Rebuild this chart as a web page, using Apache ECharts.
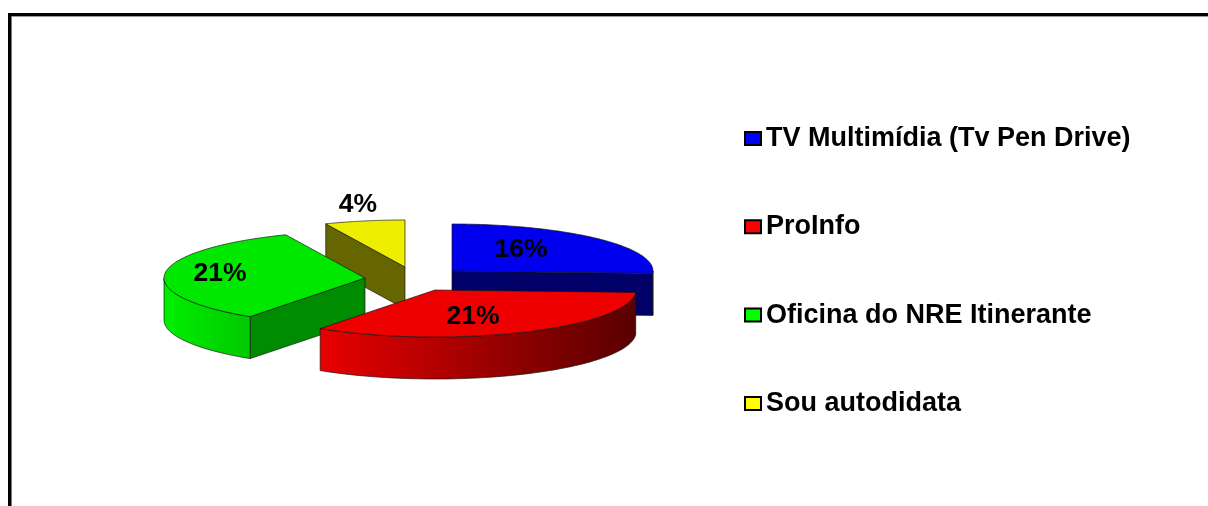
<!DOCTYPE html>
<html>
<head>
<meta charset="utf-8">
<style>html,body{margin:0;padding:0;background:#fff}#c{width:1208px;height:506px}</style>
<script src="https://cdn.jsdelivr.net/npm/echarts@6/dist/echarts.min.js"></script>
</head>
<body>
<div id="c"></div>
<script>
const categories = ['TV Multimídia (Tv Pen Drive)', 'ProInfo', 'Oficina do NRE Itinerante', 'Sou autodidata'];
const percentValues = [16, 21, 21, 4];
const legendColors = ['#0000ff', '#ff0000', '#00ff00', '#ffff00'];
const topColors = ['#0000ee', '#ee0000', '#00e800', '#eeee00'];
const sideColors = ['#000068', '#8a0000', '#008c00', '#666600'];
const arcColorStops = [['#0000b0', '#000068'], ['#e80000', '#580000'], ['#00f000', '#00c800'], ['#eeee00', '#999900']];
// pie centre of each exploded slice, in pixels
const centreX = [452, 435, 365, 405];
const centreY = [271, 290, 278, 267];
const labelDX = [69, 38, -145, -47];
const labelDY = [-21, 27, -4, -62];
const drawOrder = [2, 5, 4, 3];
const radiusX = 201, radiusY = 47, depth = 42;

const total = percentValues.reduce((a, b) => a + b, 0);

function rad(deg) { return deg * Math.PI / 180; }

function makeRender(idx) {
  return function (params, api) {
    const value = api.value(0);
    let before = 0;
    for (let i = 0; i < idx; i++) before += percentValues[i];
    const a0 = before / total * 360, a1 = (before + value) / total * 360;
    const cx = centreX[idx], cy = centreY[idx];
    const pt = (a, dy) => [cx + radiusX * Math.sin(rad(a)), cy - radiusY * Math.cos(rad(a)) + (dy || 0)];
    const stroke = { stroke: 'rgba(20,20,20,0.85)', lineWidth: 0.8 };
    const children = [];
    const radial = a => ({
      type: 'polygon',
      shape: { points: [[cx, cy], pt(a), pt(a, depth), [cx, cy + depth]] },
      style: Object.assign({ fill: sideColors[idx] }, stroke)
    });
    if (Math.sin(rad(a0)) < -1e-6) children.push(radial(a0));
    if (Math.sin(rad(a1)) > 1e-6) children.push(radial(a1));
    const f0 = Math.max(a0, 90), f1 = Math.min(a1, 270);
    if (f1 > f0) {
      const upper = [], lower = [];
      for (let a = f0; a <= f1 + 1e-6; a += (f1 - f0) / 60) {
        upper.push(pt(a));
        lower.unshift(pt(a, depth));
      }
      const stops = arcColorStops[idx];
      children.push({
        type: 'polygon',
        shape: { points: upper.concat(lower) },
        style: Object.assign({
          fill: new echarts.graphic.LinearGradient(0, 0, 1, 0, [
            { offset: 0, color: stops[0] },
            { offset: 1, color: stops[1] }
          ])
        }, stroke)
      });
    }
    const top = [[cx, cy]];
    for (let a = a0; a <= a1 + 1e-6; a += (a1 - a0) / 80) top.push(pt(a));
    children.push({
      type: 'polygon',
      shape: { points: top },
      style: Object.assign({ fill: topColors[idx] }, stroke)
    });
    children.push({
      type: 'text',
      style: {
        text: value + '%',
        x: cx + labelDX[idx], y: cy + labelDY[idx],
        align: 'center', verticalAlign: 'middle',
        fill: '#000', font: 'bold 26.5px "Liberation Sans", Arial, sans-serif'
      }
    });
    return { type: 'group', children };
  };
}

const chart = echarts.init(document.getElementById('c'), null, { renderer: 'canvas' });
chart.setOption({
  animation: false,
  backgroundColor: '#fff',
  graphic: [
    { type: 'rect', silent: true, shape: { x: 8, y: 13, width: 1200, height: 3 }, style: { fill: '#000' } },
    { type: 'rect', silent: true, shape: { x: 8, y: 13, width: 3, height: 493 }, style: { fill: '#000' } },
    { type: 'rect', silent: true, shape: { x: 11, y: 16, width: 1197, height: 1 }, style: { fill: '#999' } },
    { type: 'rect', silent: true, shape: { x: 11, y: 16, width: 1, height: 490 }, style: { fill: '#777' } }
  ],
  legend: {
    orient: 'vertical',
    left: 739,
    top: 120,
    itemGap: 61.3,
    itemWidth: 16,
    itemHeight: 13,
    icon: 'rect',
    textStyle: { fontFamily: '"Liberation Sans", Arial, sans-serif', fontWeight: 'bold', fontSize: 27, color: '#000' },
    data: categories.map((name, i) => ({
      name,
      itemStyle: { color: legendColors[i], borderColor: '#000', borderWidth: 2 }
    }))
  },
  series: categories.map((name, i) => ({
    type: 'custom',
    name,
    coordinateSystem: 'none',
    z: drawOrder[i],
    silent: true,
    renderItem: makeRender(i),
    data: [[percentValues[i]]]
  }))
});
</script>
</body>
</html>
